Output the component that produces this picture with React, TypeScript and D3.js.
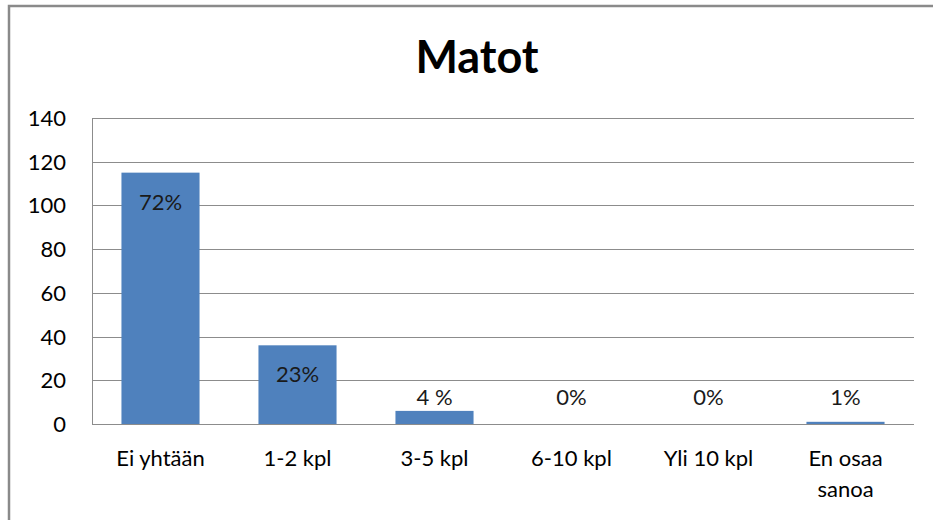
import React from "react";
import * as d3 from "d3";

const title = "Matot";
const categories = ["Ei yhtään", "1-2 kpl", "3-5 kpl", "6-10 kpl", "Yli 10 kpl", "En osaa sanoa"];
const categoryLines = [["Ei yhtään"], ["1-2 kpl"], ["3-5 kpl"], ["6-10 kpl"], ["Yli 10 kpl"], ["En osaa", "sanoa"]];
const values = [115, 36, 6, 0, 0, 1];
const valueLabels = ["72%", "23%", "4 %", "0%", "0%", "1%"];
const labelInside = [true, true, false, false, false, false];
const yTicks = [0, 20, 40, 60, 80, 100, 120, 140];

const W = 933;
const H = 520;
const M = { left: 92, right: 914, top: 118, bottom: 424 };
const FONT = "Lato, 'Open Sans', sans-serif";

export default function App() {
  const x = d3.scaleBand<string>().domain(categories).range([M.left, M.right]).paddingInner(0.43).paddingOuter(0.215);
  const y = d3.scaleLinear().domain([0, 140]).range([M.bottom, M.top]);
  const barColor = "#4F81BD";
  const gridColor = "#8c8c8c";

  return (
    <div style={{ position: "fixed", left: 0, top: 0, width: W, height: H, background: "#fff" }}>
      <svg width={W} height={H} style={{ display: "block" }}>
        <rect x={0} y={0} width={W} height={H} fill="#fff" />
        <rect x={9} y={6} width={W + 20} height={H + 20} fill="none" stroke="#8a8a8a" strokeWidth={2.5} />
        <text x={477} y={73} textAnchor="middle" fontFamily={FONT} fontWeight="bold" fontSize={45} fill="#000">
          {title}
        </text>
        {yTicks.map((t) => (
          <g key={t}>
            <line x1={M.left} x2={M.right} y1={Math.round(y(t)) + 0.5} y2={Math.round(y(t)) + 0.5} stroke={gridColor} strokeWidth={1} />
            <text x={66} y={y(t) + 8} textAnchor="end" fontFamily={FONT} fontSize={22} fill="#000">
              {t}
            </text>
          </g>
        ))}
        <line x1={M.left + 0.5} x2={M.left + 0.5} y1={M.top} y2={M.bottom} stroke={gridColor} strokeWidth={1} />
        {categories.map((c, i) => {
          const bx = x(c)!;
          const bw = x.bandwidth();
          const top = y(values[i]);
          const cx = bx + bw / 2;
          const labelY = labelInside[i] ? top + 37 : y(Math.max(values[i], 6)) - 6;
          return (
            <g key={c}>
              {values[i] > 0 && (
                <rect x={bx} y={top} width={bw} height={y(0) - top} fill={barColor} />
              )}
              <text x={cx} y={labelY} textAnchor="middle" fontFamily={FONT} fontSize={22} fill="#1a1a1a">
                {valueLabels[i]}
              </text>
              {categoryLines[i].map((ln, j) => (
                <text key={j} x={cx} y={466 + j * 31} textAnchor="middle" fontFamily={FONT} fontSize={22} fill="#000">
                  {ln}
                </text>
              ))}
            </g>
          );
        })}
      </svg>
    </div>
  );
}
